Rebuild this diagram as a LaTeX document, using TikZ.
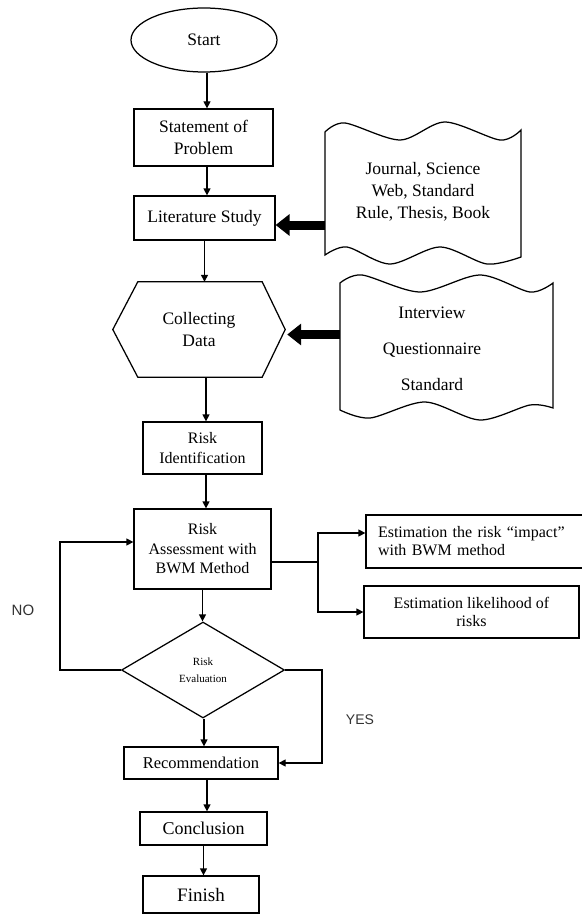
\documentclass[tikz,border=0pt]{standalone}
\usepackage{fontspec}
\setmainfont{Liberation Serif}
\newfontfamily\lsans{Liberation Sans}
\usetikzlibrary{shapes.geometric,arrows.meta,calc}
\begin{document}
\begin{tikzpicture}[x=1pt,y=-1pt,
  box/.style={draw, line width=1.25pt, rectangle, inner sep=0pt, align=center},
  arr/.style={line width=1.25pt, -{Triangle[length=7pt,width=7pt]}},
  fat/.style={line width=9pt, -{Triangle[length=14pt,width=21pt]}},
  ln/.style={line width=1.25pt},
  fa/.style={font=\fontsize{17.5}{22}\selectfont},
  fb/.style={font=\fontsize{16}{19.5}\selectfont},
  fc/.style={font=\fontsize{16}{18}\selectfont},
  lbl/.style={font=\lsans\fontsize{15}{18}\selectfont, text=black!80}]
\useasboundingbox (0,0) rectangle (581,915);
\fill[white] (0,0) rectangle (581,915);

% main column
\node[box, ellipse, fa, minimum width=146pt, minimum height=64pt] (start) at (204,40) {Start};
\node[box, fa, minimum width=139pt, minimum height=57pt] (stmt) at (203.5,137.5) {Statement of\\Problem};
\node[box, fa, minimum width=141pt, minimum height=44pt] (lit) at (204.5,218) {Literature Study};
\node[fa, inner sep=0pt, minimum width=172pt, minimum height=95pt, align=center] (hex) at (199,329.5) {Collecting\\Data};
\draw[ln, line join=miter] (hex.west) -- ([xshift=25pt]hex.north west) -- ([xshift=-23pt]hex.north east)
  -- (hex.east) -- ([xshift=-23pt]hex.south east) -- ([xshift=25pt]hex.south west) -- cycle;
\node[box, fb, minimum width=119pt, minimum height=52pt] (riskid) at (202.5,448) {Risk\\Identification};
\node[box, fb, minimum width=137pt, minimum height=80pt] (ra) at (202.5,549) {Risk\\Assessment with\\BWM Method};
\node[draw, line width=1.25pt, diamond, inner sep=0pt, minimum width=163pt, minimum height=96pt,
      align=center, font=\fontsize{11}{17}\selectfont] (dia) at (203,670) {Risk\\Evaluation};
\node[box, font=\fontsize{16.5}{20}\selectfont, minimum width=154pt, minimum height=32pt] (rec) at (201,763) {Recommendation};
\node[box, font=\fontsize{18}{22}\selectfont, minimum width=127pt, minimum height=33pt] (conc) at (203.5,828.5) {Conclusion};
\node[box, font=\fontsize{19}{22}\selectfont, minimum width=116pt, minimum height=37pt] (fin) at (201,894.5) {Finish};

% side documents
\node[fa, inner sep=0pt, minimum width=196pt, minimum height=125pt, align=center] (doc1) at (423,192)
  {Journal, Science\\Web, Standard\\Rule, Thesis, Book};
\draw[ln] (325,255) -- (325,132)
  -- plot[smooth] coordinates {(325,132) (345,123) (400,140) (445,122) (500,140) (521,130)}
  -- (521,257)
  -- plot[smooth] coordinates {(521,257) (487,264) (440,247) (390,264) (347,247) (325,255)}
  -- cycle;
\node[inner sep=0pt, minimum width=213pt, minimum height=125pt] (doc2) at (446.5,346) {};
\node[font=\fontsize{17.5}{36}\selectfont, align=center, inner sep=0pt] (doc2t) at (432,349)
  {Interview\\Questionnaire\\Standard};
\draw[ln] (340,410) -- (340,283)
  -- plot[smooth] coordinates {(340,283) (362,275) (420,292) (480,275) (530,292) (553,283)}
  -- (553,408)
  -- plot[smooth] coordinates {(553,408) (530,405) (480,420) (425,402) (370,418) (340,410)}
  -- cycle;

% estimation boxes
\node[box, fc, minimum width=222pt, minimum height=53pt, text width=198pt, align=left] (est1) at (477,541.5)
  {Estimation the risk “impact”\\with BWM method};
\node[box, fc, minimum width=215pt, minimum height=52pt] (est2) at (471.5,612)
  {Estimation likelihood of\\risks};

% connectors
\draw[arr] ([xshift=3pt]start.south) -- ([xshift=3pt]start.south |- stmt.north);
\draw[arr] ([xshift=3.5pt]stmt.south) -- ([xshift=3.5pt]stmt.south |- lit.north);
\draw[arr] (lit.south) -- (lit.south |- hex.north);
\draw[arr] ([xshift=7pt]hex.south) -- ([xshift=7pt]hex.south |- riskid.north);
\draw[arr] ([xshift=3.5pt]riskid.south) -- ([xshift=3.5pt]riskid.south |- ra.north);
\draw[arr] (ra.south) -- (ra.south |- dia.north);
\draw[arr] ([xshift=1pt]dia.south) -- ([xshift=1pt]dia.south |- rec.north);
\draw[arr] ([xshift=6pt]rec.south) -- ([xshift=6pt]rec.south |- conc.north);
\draw[arr] (conc.south) -- (conc.south |- fin.north);

\coordinate (a1) at ([yshift=-7pt]lit.east);
\draw[fat] (doc1.west |- a1) -- (a1);
\coordinate (a2) at ([xshift=2pt,yshift=-5pt]hex.east);
\draw[fat] (doc2.west |- a2) -- (a2);

\coordinate (br) at (318,562);
\draw[ln] (ra.east |- br) -- (br);
\draw[arr] (br) |- ([yshift=8.5pt]est1.west);
\draw[arr] (br) |- (est2.west);

\coordinate (nox) at (60,0);
\draw[arr] (dia.west) -- (dia.west -| nox) |- ([yshift=7pt]ra.west);
\coordinate (yesx) at (322,0);
\draw[arr] (dia.east) -- (dia.east -| yesx) |- (rec.east);

\node[lbl] (no) at (23,610) {NO};
\node[lbl, font=\lsans\fontsize{14}{17}\selectfont] (yes) at (360,720) {YES};
\end{tikzpicture}
\end{document}
